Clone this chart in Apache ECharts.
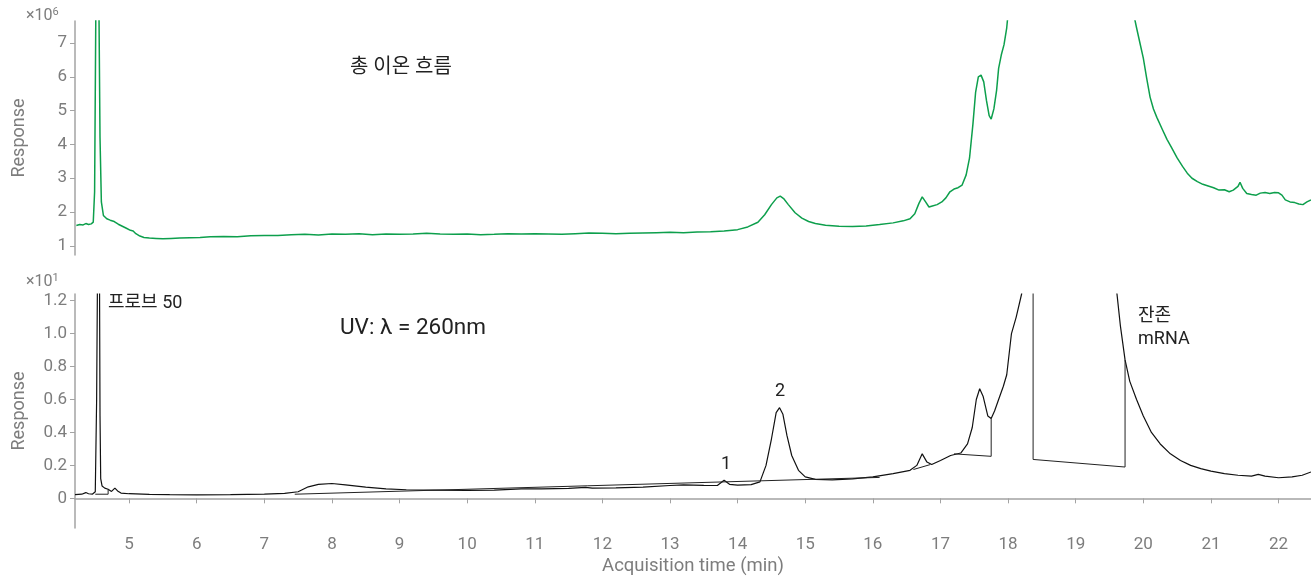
<!DOCTYPE html>
<html>
<head>
<meta charset="utf-8">
<script src="https://cdn.jsdelivr.net/npm/echarts@6/dist/echarts.min.js"></script>
<style>
html,body{margin:0;padding:0;background:#fff;}
#chart{width:1311px;height:577px;}
</style>
</head>
<body>
<div id="chart"></div>
<script>
// 총 이온 흐름 (TIC), x10^6
var ticTime = [4.22,4.27,4.32,4.36,4.40,4.44,4.47,4.49,4.51,4.53,4.55,4.57,4.59,4.62,4.67,4.72,4.78,4.84,4.90,4.96,5.02,5.06,5.10,5.16,5.22,5.30,5.40,5.50,5.62,5.75,5.90,6.05,6.20,6.40,6.60,6.80,7.00,7.20,7.40,7.60,7.80,8.00,8.20,8.40,8.60,8.80,9.00,9.20,9.40,9.60,9.80,10.00,10.20,10.40,10.60,10.80,11.00,11.20,11.40,11.60,11.80,12.00,12.20,12.40,12.60,12.80,13.00,13.20,13.40,13.60,13.80,14.00,14.15,14.30,14.40,14.50,14.58,14.63,14.68,14.75,14.85,14.95,15.05,15.15,15.30,15.50,15.70,15.90,16.10,16.30,16.45,16.55,16.62,16.68,16.73,16.78,16.83,16.88,16.95,17.02,17.08,17.14,17.20,17.26,17.32,17.38,17.43,17.48,17.52,17.56,17.60,17.64,17.68,17.72,17.75,17.79,17.83,17.86,17.90,17.94,17.98,18.02,18.10,18.40,19.00,19.50,19.80,19.90,19.95,20.00,20.05,20.10,20.15,20.20,20.28,20.35,20.42,20.50,20.58,20.65,20.72,20.80,20.88,20.96,21.04,21.12,21.20,21.27,21.33,21.40,21.43,21.47,21.53,21.60,21.67,21.73,21.80,21.87,21.94,22.00,22.05,22.10,22.17,22.24,22.30,22.36,22.42,22.48];
var ticValue = [1.60,1.63,1.62,1.66,1.63,1.65,1.70,2.6,8.5,12,9,4.2,2.3,1.9,1.80,1.76,1.72,1.64,1.58,1.52,1.46,1.44,1.36,1.29,1.25,1.23,1.22,1.21,1.22,1.23,1.24,1.25,1.27,1.28,1.27,1.30,1.31,1.31,1.33,1.34,1.32,1.35,1.34,1.36,1.33,1.35,1.34,1.35,1.37,1.35,1.34,1.35,1.33,1.34,1.36,1.35,1.36,1.35,1.34,1.36,1.38,1.37,1.36,1.37,1.38,1.39,1.40,1.39,1.41,1.42,1.44,1.48,1.56,1.70,1.92,2.22,2.42,2.47,2.40,2.22,1.98,1.82,1.72,1.66,1.61,1.58,1.57,1.59,1.63,1.68,1.74,1.80,1.95,2.25,2.45,2.30,2.15,2.18,2.22,2.30,2.42,2.60,2.68,2.72,2.80,3.10,3.60,4.60,5.55,6.00,6.05,5.85,5.30,4.85,4.75,5.05,5.60,6.25,6.65,6.95,7.45,8.3,10,14,16,12,8.4,7.45,7.0,6.55,5.95,5.40,5.05,4.80,4.45,4.15,3.90,3.60,3.35,3.15,3.00,2.90,2.82,2.77,2.72,2.65,2.66,2.60,2.65,2.76,2.88,2.70,2.55,2.52,2.50,2.56,2.58,2.55,2.58,2.57,2.50,2.36,2.30,2.28,2.24,2.22,2.30,2.36];

// UV 260nm, x10^1
var uvTime = [4.20,4.30,4.36,4.40,4.46,4.50,4.52,4.54,4.56,4.57,4.58,4.60,4.64,4.69,4.74,4.79,4.83,4.88,5.0,5.3,5.6,6.0,6.5,7.0,7.3,7.5,7.65,7.8,8.0,8.2,8.5,8.8,9.1,9.5,10.0,10.4,10.8,11.1,11.5,11.75,11.85,12.2,12.6,13.0,13.2,13.5,13.7,13.8,13.88,14.0,14.2,14.33,14.42,14.5,14.57,14.62,14.67,14.73,14.8,14.9,15.0,15.15,15.4,15.7,16.0,16.3,16.55,16.65,16.73,16.8,16.87,17.0,17.15,17.3,17.4,17.47,17.53,17.58,17.63,17.7,17.75,17.8,17.86,17.93,17.98,18.05,18.12,18.2,18.3,18.8,19.4,19.6,19.66,19.73,19.8,19.9,20.0,20.12,20.25,20.4,20.55,20.7,20.85,21.0,21.2,21.4,21.6,21.7,21.8,22.0,22.2,22.35,22.48];
var uvValue = [0.022,0.025,0.035,0.028,0.026,0.04,0.6,1.8,1.6,0.5,0.12,0.075,0.062,0.055,0.042,0.062,0.045,0.032,0.028,0.024,0.022,0.021,0.022,0.025,0.03,0.04,0.07,0.085,0.09,0.082,0.068,0.058,0.052,0.05,0.048,0.05,0.057,0.058,0.06,0.066,0.062,0.063,0.068,0.078,0.082,0.079,0.078,0.11,0.085,0.08,0.083,0.1,0.2,0.36,0.52,0.55,0.51,0.38,0.26,0.17,0.13,0.115,0.112,0.118,0.13,0.15,0.17,0.2,0.27,0.22,0.205,0.23,0.26,0.275,0.33,0.43,0.6,0.665,0.62,0.5,0.485,0.53,0.6,0.68,0.75,1.0,1.1,1.24,1.6,3,2.5,1.28,1.05,0.84,0.71,0.6,0.5,0.4,0.33,0.27,0.23,0.2,0.18,0.165,0.15,0.14,0.135,0.145,0.135,0.125,0.13,0.14,0.16];

// 적분 기준선 (integration baselines)
var uvBaselines = [
  [[4.50,0.025],[4.69,0.025],[4.69,0.055]],
  [[7.45,0.025],[16.1,0.127]],
  [[16.6,0.175],[16.85,0.205]],
  [[17.2,0.27],[17.75,0.255],[17.75,0.485]],
  [[18.37,1.3],[18.37,0.236],[19.73,0.19],[19.73,0.84]]
];

var ticTicks = [1,2,3,4,5,6,7];
var uvTicks = [0,0.2,0.4,0.6,0.8,1.0,1.2];
var xTicks = [5,6,7,8,9,10,11,12,13,14,15,16,17,18,19,20,21,22];

var font = 'Roboto, "Noto Sans CJK KR", sans-serif';
var axisGray = '#a3a3a3';
var labelGray = '#7d7d7d';

function zip(a, b){
  var out = [];
  for (var i = 0; i < a.length; i++) out.push([a[i], b[i]]);
  return out;
}

var myChart = echarts.init(document.getElementById('chart'));

var yCommon = function(ticks, fmt){
  return {
    type: 'value',
    name: 'Response',
    nameLocation: 'middle',
    nameGap: 47,
    nameTextStyle: {color: labelGray, fontSize: 18, fontFamily: font},
    axisLine: {show: true, lineStyle: {color: axisGray, width: 1.5}},
    axisTick: {show: true, length: 5, customValues: ticks, lineStyle: {color: axisGray}},
    axisLabel: {color: labelGray, fontSize: 17, fontFamily: font, margin: 8, customValues: ticks, formatter: fmt},
    splitLine: {show: false}
  };
};

var series = [
  {
    type: 'line', xAxisIndex: 0, yAxisIndex: 0,
    data: zip(ticTime, ticValue),
    symbol: 'none', clip: true,
    lineStyle: {color: '#0d9f4c', width: 1.5},
    animation: false
  },
  {
    type: 'line', xAxisIndex: 1, yAxisIndex: 1,
    data: zip(uvTime, uvValue),
    symbol: 'none', clip: true,
    lineStyle: {color: '#111', width: 1.2},
    animation: false
  }
];
uvBaselines.forEach(function(seg){
  series.push({
    type: 'line', xAxisIndex: 1, yAxisIndex: 1,
    data: seg, symbol: 'none', clip: true,
    lineStyle: {color: '#222', width: 1},
    animation: false
  });
});

var supRich = {
  a: {fontSize: 16, fill: labelGray, fontFamily: font},
  b: {fontSize: 11, fill: labelGray, fontFamily: font, verticalAlign: 'top', padding: [0,0,7,0]}
};

var option = {
  backgroundColor: '#fff',
  animation: false,
  grid: [
    {left: 75, right: 0, top: 21, height: 234, outerBoundsMode: 'none', containLabel: false},
    {left: 75, right: 0, top: 294, height: 234, outerBoundsMode: 'none', containLabel: false}
  ],
  xAxis: [
    {type: 'value', gridIndex: 0, min: 4.2, max: 22.48, show: false},
    {
      type: 'value', gridIndex: 1, min: 4.2, max: 22.48,
      name: 'Acquisition time (min)',
      nameLocation: 'middle', nameGap: 29,
      nameTextStyle: {color: labelGray, fontSize: 18.5, fontFamily: font},
      axisLine: {show: true, lineStyle: {color: axisGray, width: 1.5}},
      axisTick: {show: true, length: 5, customValues: xTicks, lineStyle: {color: axisGray}},
      axisLabel: {color: labelGray, fontSize: 17, fontFamily: font, margin: 8, customValues: xTicks},
      splitLine: {show: false}
    }
  ],
  yAxis: [
    Object.assign(yCommon(ticTicks, function(v){ return String(v); }), {gridIndex: 0, min: 0.73, max: 7.65}),
    Object.assign(yCommon(uvTicks, function(v){ return v === 0 ? '0' : v.toFixed(1); }), {gridIndex: 1, min: -0.18, max: 1.24})
  ],
  graphic: [
    {type: 'text', left: 26, top: 7, style: {text: '{a|×10}{b|6}', rich: supRich}},
    {type: 'text', left: 26, top: 273, style: {text: '{a|×10}{b|1}', rich: supRich}},
    {type: 'text', left: 350, top: 58, style: {text: '총 이온 흐름', fontSize: 20, fill: '#222', fontFamily: font}},
    {type: 'text', left: 340, top: 317, style: {text: 'UV: λ = 260nm', fontSize: 22.5, fill: '#222', fontFamily: font}},
    {type: 'text', left: 108, top: 295, style: {text: '프로브 50', fontSize: 18, fill: '#222', fontFamily: font}},
    {type: 'text', left: 721, top: 456, style: {text: '1', fontSize: 18, fill: '#222', fontFamily: font}},
    {type: 'text', left: 775, top: 383, style: {text: '2', fontSize: 18, fill: '#222', fontFamily: font}},
    {type: 'text', left: 1138, top: 305, style: {text: '잔존\nmRNA', fontSize: 18, lineHeight: 23, fill: '#222', fontFamily: font}}
  ],
  series: series
};
myChart.setOption(option);
</script>
</body>
</html>
